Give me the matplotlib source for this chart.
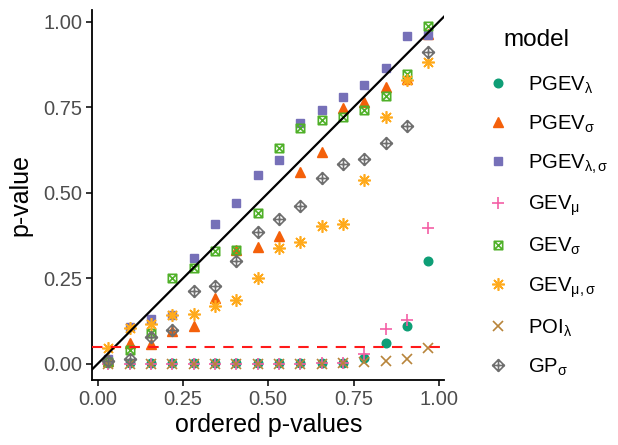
import numpy as np
import matplotlib
matplotlib.use('Agg')
import matplotlib.pyplot as plt
from matplotlib.path import Path

plt.rcParams['font.family'] = ['Liberation Sans', 'DejaVu Sans']
plt.rcParams['mathtext.fontset'] = 'custom'
plt.rcParams['mathtext.rm'] = 'Liberation Sans'
plt.rcParams['mathtext.it'] = 'Liberation Sans'

# ordered p-values (x axis), 16 points
x_vals = (np.arange(1, 17) - 0.5) / 16

pgev_lambda = [0.002, 0.002, 0.002, 0.002, 0.002, 0.002, 0.002, 0.002,
               0.002, 0.002, 0.002, 0.003, 0.016, 0.062, 0.112, 0.302]
pgev_sigma = [0.01, 0.062, 0.057, 0.097, 0.11, 0.193, 0.334, 0.343,
              0.373, 0.56, 0.618, 0.748, 0.766, 0.81, 0.833, 0.965]
pgev_lambda_sigma = [0.015, 0.109, 0.132, 0.144, 0.31, 0.409, 0.469, 0.552,
                     0.596, 0.705, 0.742, 0.779, 0.815, 0.866, 0.958, 0.961]
gev_mu = [0.001, 0.001, 0.001, 0.001, 0.001, 0.001, 0.001, 0.001,
          0.001, 0.001, 0.002, 0.004, 0.03, 0.102, 0.127, 0.397]
gev_sigma = [0.005, 0.042, 0.09, 0.251, 0.28, 0.329, 0.334, 0.441,
             0.632, 0.689, 0.713, 0.721, 0.742, 0.783, 0.847, 0.987]
gev_mu_sigma = [0.047, 0.105, 0.116, 0.143, 0.146, 0.168, 0.188, 0.251,
                0.339, 0.355, 0.402, 0.41, 0.538, 0.723, 0.83, 0.883]
poi_lambda = [0.001, 0.001, 0.001, 0.001, 0.001, 0.001, 0.001, 0.001,
              0.001, 0.001, 0.001, 0.002, 0.006, 0.008, 0.013, 0.047]
gp_sigma = [0.008, 0.013, 0.08, 0.10, 0.212, 0.227, 0.30, 0.387,
            0.423, 0.461, 0.543, 0.585, 0.598, 0.646, 0.696, 0.912]

labels = [r'PGEV$_{\lambda}$', r'PGEV$_{\sigma}$', r'PGEV$_{\lambda,\sigma}$',
          r'GEV$_{\mu}$', r'GEV$_{\sigma}$', r'GEV$_{\mu,\sigma}$',
          r'POI$_{\lambda}$', r'GP$_{\sigma}$']

# custom markers: square with x, diamond with plus
M, L, C = Path.MOVETO, Path.LINETO, Path.CLOSEPOLY
square_x = Path([(-1, -1), (1, -1), (1, 1), (-1, 1), (-1, -1),
                 (-1, -1), (1, 1), (-1, 1), (1, -1)],
                [M, L, L, L, C, M, L, M, L])
diamond_plus = Path([(0, -1), (1, 0), (0, 1), (-1, 0), (0, -1),
                     (0, -1), (0, 1), (-1, 0), (1, 0)],
                    [M, L, L, L, C, M, L, M, L])

series = [
    (pgev_lambda, '#0E9E76', 'o', 6.2, True),
    (pgev_sigma, '#F4600A', '^', 7.5, True),
    (pgev_lambda_sigma, '#7670B8', 's', 6.0, True),
    (gev_mu, '#F45FA5', '+', 9.0, False),
    (gev_sigma, '#4FB028', square_x, 6.0, False),
    (gev_mu_sigma, '#FFAA1C', (8, 2, 0), 9.0, False),
    (poi_lambda, '#B8843A', 'x', 6.5, False),
    (gp_sigma, '#6E6E6E', diamond_plus, 8.5, False),
]

fig = plt.figure(figsize=(6.18, 4.45), dpi=100)
ax = fig.add_axes([0.149, 0.146, 0.570, 0.832])

handles = []
for (vals, col, mk, ms, filled), lab in zip(series, labels):
    h, = ax.plot(x_vals, vals, linestyle='none', marker=mk, markersize=ms,
                 color=col, markerfacecolor=col if filled else 'none',
                 markeredgecolor=col, markeredgewidth=1.0 if filled else 1.2,
                 label=lab, zorder=3)
    handles.append(h)

ax.axline((0, 0), slope=1, color='black', linewidth=1.6, zorder=4)
ax.axhline(0.05, color='#FF1A1A', linewidth=1.5, linestyle=(0, (5, 4)), zorder=4)

ax.set_xlim(-0.016, 1.016)
ax.set_ylim(-0.047, 1.035)
ax.set_xticks([0, 0.25, 0.5, 0.75, 1.0])
ax.set_xticklabels(['0.00', '0.25', '0.50', '0.75', '1.00'])
ax.set_yticks([0, 0.25, 0.5, 0.75, 1.0])
ax.set_yticklabels(['0.00', '0.25', '0.50', '0.75', '1.00'])

for s in ['top', 'right']:
    ax.spines[s].set_visible(False)
for s in ['left', 'bottom']:
    ax.spines[s].set_linewidth(1.3)
ax.tick_params(length=4, width=1.1, labelsize=14.5, labelcolor='#4D4D4D', pad=3)

ax.set_xlabel('ordered p-values', fontsize=18, labelpad=3)
ax.set_ylabel('p-value', fontsize=18, labelpad=8)

fig.text(503 / 618, 1 - 40 / 445, 'model', fontsize=17.5, va='center', ha='left')

leg = fig.legend(handles=handles, loc='upper left', bbox_to_anchor=(0.769, 0.856),
                 fontsize=14.6, frameon=False, borderpad=0,
                 labelspacing=0.88, handletextpad=0.9, handlelength=1.2)

fig.savefig('out.png', dpi=100)
